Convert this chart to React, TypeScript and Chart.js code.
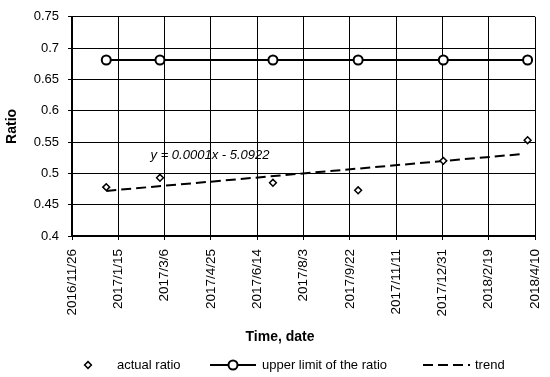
import React, { useEffect, useRef } from 'react';
import { Chart, registerables } from 'chart.js';

Chart.register(...registerables);

const FONT = '"Liberation Sans", Arial, sans-serif';

const baseDate = '2016-11-26';
const xTickLabels = ['2016/11/26', '2017/1/15', '2017/3/6', '2017/4/25', '2017/6/14', '2017/8/3', '2017/9/22', '2017/11/11', '2017/12/31', '2018/2/19', '2018/4/10'];
const sampleDates = ['2017-01-02', '2017-03-01', '2017-07-01', '2017-10-01', '2018-01-01', '2018-04-02'];
const actualRatio = [0.478, 0.493, 0.485, 0.473, 0.52, 0.553];
const upperLimit = [0.681, 0.681, 0.681, 0.681, 0.681, 0.681];
const trendDates = ['2017-01-02', '2018-03-28'];
const trendValues = [0.472, 0.531];
const trendEquation = 'y = 0.0001x - 5.0922';
const seriesNames = ['actual ratio', 'upper limit of the ratio', 'trend'];
const xTitle = 'Time, date';
const yTitle = 'Ratio';

const dayOffset = (d: string) => (Date.parse(d) - Date.parse(baseDate)) / 86400000;

const overlay = {
  id: 'overlay',
  afterDraw(chart: any) {
    const ctx = chart.ctx as CanvasRenderingContext2D;
    ctx.save();
    ctx.fillStyle = '#000';
    ctx.strokeStyle = '#000';
    ctx.textBaseline = 'middle';
    // trend equation
    ctx.font = `italic 13px ${FONT}`;
    ctx.textAlign = 'center';
    ctx.fillText(trendEquation, 210, 155);
    // x axis title
    ctx.font = `bold 14px ${FONT}`;
    ctx.fillText(xTitle, 280, 337);
    // legend
    const ly = 365;
    ctx.font = `13px ${FONT}`;
    ctx.textAlign = 'left';
    // diamond
    ctx.lineWidth = 1.5;
    ctx.beginPath();
    ctx.moveTo(88, ly - 3.4);
    ctx.lineTo(91.4, ly);
    ctx.lineTo(88, ly + 3.4);
    ctx.lineTo(84.6, ly);
    ctx.closePath();
    ctx.fillStyle = '#fff';
    ctx.fill();
    ctx.stroke();
    ctx.fillStyle = '#000';
    ctx.fillText(seriesNames[0], 117, ly);
    // line with circle
    ctx.lineWidth = 2;
    ctx.beginPath();
    ctx.moveTo(210, ly);
    ctx.lineTo(256, ly);
    ctx.stroke();
    ctx.beginPath();
    ctx.arc(233, ly, 4.5, 0, Math.PI * 2);
    ctx.fillStyle = '#fff';
    ctx.fill();
    ctx.stroke();
    ctx.fillStyle = '#000';
    ctx.fillText(seriesNames[1], 262, ly);
    // dashed
    ctx.setLineDash([10, 5]);
    ctx.beginPath();
    ctx.moveTo(423, ly);
    ctx.lineTo(470, ly);
    ctx.stroke();
    ctx.setLineDash([]);
    ctx.fillText(seriesNames[2], 475, ly);
    ctx.restore();
  },
};

export default function App() {
  const ref = useRef<HTMLCanvasElement>(null);
  useEffect(() => {
    if (!ref.current) return;
    const chart = new Chart(ref.current, {
      type: 'line',
      data: {
        datasets: [
          {
            label: seriesNames[0],
            data: sampleDates.map((d, i) => ({ x: dayOffset(d), y: actualRatio[i] })),
            showLine: false,
            pointStyle: 'rectRot',
            pointRadius: 3.4,
            pointBorderWidth: 1.5,
            pointBorderColor: '#000',
            pointBackgroundColor: '#fff',
            borderColor: '#000',
          },
          {
            label: seriesNames[1],
            data: sampleDates.map((d, i) => ({ x: dayOffset(d), y: upperLimit[i] })),
            borderColor: '#000',
            borderWidth: 2,
            pointStyle: 'circle',
            pointRadius: 4.5,
            pointBorderWidth: 2,
            pointBorderColor: '#000',
            pointBackgroundColor: '#fff',
          },
          {
            label: seriesNames[2],
            data: trendDates.map((d, i) => ({ x: dayOffset(d), y: trendValues[i] })),
            borderColor: '#000',
            borderWidth: 2,
            borderDash: [10, 5],
            pointRadius: 0,
          },
        ],
      },
      options: {
        animation: false,
        responsive: false,
        maintainAspectRatio: false,
        layout: { padding: { left: 0, right: 15, top: 14, bottom: 28 } },
        plugins: { legend: { display: false }, tooltip: { enabled: false } },
        scales: {
          x: {
            type: 'linear',
            min: 0,
            max: 500,
            afterFit: (s: any) => { s.height = 113; s.paddingRight = 0; s.paddingLeft = 0; },
            ticks: {
              stepSize: 50,
              minRotation: 90,
              maxRotation: 90,
              autoSkip: false,
              color: '#000',
              padding: 9,
              font: { family: FONT, size: 13.5 },
              callback: (v: any) => xTickLabels[Math.round(Number(v) / 50)] ?? '',
            },
            grid: { color: '#000', lineWidth: 1, tickLength: 4 },
            border: { color: '#000', width: 2 },
          },
          y: {
            min: 0.4,
            max: 0.75,
            afterFit: (s: any) => { s.width = 72; },
            ticks: {
              stepSize: 0.05,
              color: '#000',
              padding: 9,
              font: { family: FONT, size: 13 },
              callback: (v: any) => String(Number(Number(v).toFixed(2))),
            },
            grid: { color: '#000', lineWidth: 1, tickLength: 4 },
            border: { color: '#000', width: 2 },
            title: {
              display: true,
              text: yTitle,
              color: '#000',
              font: { family: FONT, size: 14, weight: 'bold' },
              padding: { top: 4, bottom: 4 },
            },
          },
        },
      },
      plugins: [overlay],
    } as any);
    return () => chart.destroy();
  }, []);
  return (
    <div style={{ position: 'absolute', left: 0, top: 0, width: 550, height: 377, background: '#fff' }}>
      <canvas ref={ref} width={550} height={377} style={{ width: 550, height: 377 }} />
    </div>
  );
}
